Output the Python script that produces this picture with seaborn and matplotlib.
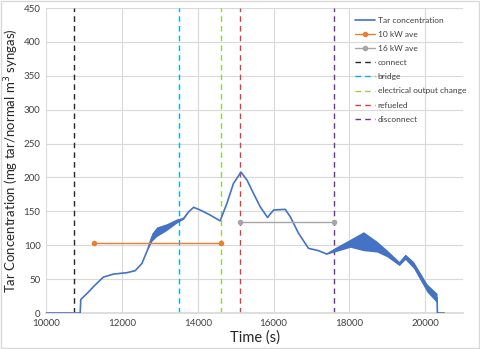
import matplotlib

matplotlib.use("Agg")
import matplotlib.pyplot as plt
import seaborn as sns
from matplotlib.patches import Rectangle

sns.set_theme(style="whitegrid")
plt.rcParams["font.family"] = ["Lato", "DejaVu Sans"]

# tar concentration trace
time_s = [10000, 10900, 10915, 11100, 11250, 11510, 11775, 12130, 12350, 12525,
          12675, 12790, 12920, 13185, 13450, 13625, 13755, 13890, 14065, 14330,
          14590, 14770, 14940, 15140, 15300, 15470, 15645, 15840, 16000, 16305,
          16440, 16660, 16920, 17185, 17405, 17600, 18020, 18370, 18725, 18990,
          19315, 19470, 19690, 20045, 20310, 20320, 20500]
tar = [0, 0, 20, 30, 39, 53, 57.5, 59.5, 62.5, 73,
       93, 112, 120, 127, 136, 139.5, 149, 156, 152, 144.5,
       136, 162, 191, 208, 196, 176.5, 157, 141, 152, 153,
       142, 117.5, 95.5, 92, 87, 93, 103, 106, 98, 88,
       73, 83, 71, 37, 22, 0, 0]
# half-width of the noisy band around the trace
tar_noise = [0, 0, 0, 0, 0, 0, 0, 0, 0, 0,
             0, 6, 7, 5, 3, 1, 0, 0, 0, 0,
             0, 0, 0, 0, 0, 0, 0, 0, 0, 0,
             0, 0, 0, 0, 0, 3, 6, 14, 8, 5,
             3, 4, 5, 6, 7, 0, 0]

ave10_time = [11260, 14600]
ave10_val = [103, 103]
ave16_time = [15120, 17600]
ave16_val = [135, 135]

event_labels = ["connect", "bridge", "electrical output change", "refueled", "disconnect"]
event_times = [10740, 13500, 14600, 15120, 17600]
event_colors = ["#262626", "#00B0F0", "#92D050", "#E03C3C", "#7030A0"]

fig = plt.figure(figsize=(4.8, 3.49), dpi=100)
ax = fig.add_axes([0.096, 0.103, 0.869, 0.874])

lower = [t - n for t, n in zip(tar, tar_noise)]
upper = [t + n for t, n in zip(tar, tar_noise)]
ax.fill_between(time_s, lower, upper, color="#4472C4", linewidth=0, zorder=3)
sns.lineplot(x=time_s, y=tar, ax=ax, color="#4472C4", linewidth=1.2,
             label="Tar concentration", zorder=4)
sns.lineplot(x=ave10_time, y=ave10_val, ax=ax, color="#ED7D31", linewidth=1.0,
             marker="o", markersize=4, markeredgewidth=0, label="10 kW ave", zorder=4)
sns.lineplot(x=ave16_time, y=ave16_val, ax=ax, color="#A5A5A5", linewidth=1.0,
             marker="o", markersize=4, markeredgewidth=0, label="16 kW ave", zorder=4)

for lab, t, c in zip(event_labels, event_times, event_colors):
    ax.axvline(t, color=c, linestyle=(0, (4, 3)), linewidth=1.0, label=lab, zorder=2)

ax.set_xlim(10000, 21000)
ax.set_ylim(0, 450)
ax.set_xticks(range(10000, 20001, 2000))
ax.set_yticks(range(0, 451, 50))
ax.tick_params(axis="both", labelsize=7, colors="#404040", length=0, pad=4)
ax.grid(color="#D9D9D9", linewidth=0.8)
for side in ["top", "right", "left"]:
    ax.spines[side].set_visible(False)
ax.spines["bottom"].set_color("#D9D9D9")

ax.set_xlabel("Time (s)", fontsize=10.5, color="#262626", labelpad=2)
ax.set_ylabel("Tar Concentration (mg tar/normal m$^3$ syngas)", fontsize=9.5,
              color="#262626", labelpad=2)

ax.legend(loc="upper right", bbox_to_anchor=(1.025, 0.995), frameon=False,
          fontsize=6.0, handlelength=2.4, labelspacing=0.85, handletextpad=0.3,
          labelcolor="#404040")

fig.patches.append(Rectangle((0.002, 0.003), 0.996, 0.994, transform=fig.transFigure,
                             fill=False, edgecolor="#D9D9D9", linewidth=1.0))

fig.savefig("out.png", dpi=100)
